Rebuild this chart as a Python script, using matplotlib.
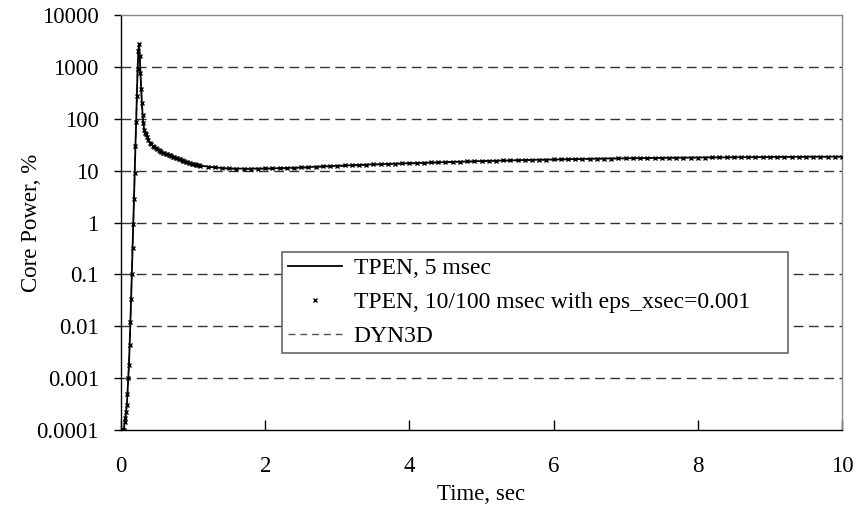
import matplotlib
matplotlib.use("Agg")
import matplotlib.pyplot as plt
from matplotlib.ticker import FixedLocator, NullLocator

plt.rcParams['font.family'] = ['Liberation Serif', 'DejaVu Serif']

# Leyenda
labels = ["TPEN, 5 msec", "TPEN, 10/100 msec with eps_xsec=0.001", "DYN3D"]

# Subida y pico (comun a las tres series)
t_rise = [0.0, 0.01, 0.02, 0.03, 0.04, 0.05, 0.06, 0.07, 0.08, 0.09, 0.10, 0.11,
          0.12, 0.13, 0.14, 0.15, 0.16, 0.17, 0.18, 0.19, 0.20, 0.21, 0.22, 0.23,
          0.24, 0.25, 0.26, 0.27, 0.28, 0.29, 0.30, 0.31, 0.32, 0.33]
p_rise = [0.0001, 0.0001, 0.0001, 0.0001, 0.0001, 0.00014, 0.00017, 0.00022,
          0.0003, 0.0005, 0.001, 0.0018, 0.0044, 0.012, 0.033, 0.1, 0.32, 0.93,
          2.85, 9.0, 30.0, 85.0, 270.0, 900.0, 2000.0, 2800.0, 1600.0, 760.0,
          370.0, 200.0, 118.0, 81.0, 62.0, 54.0]

# TPEN 5 msec (linea continua), cola
t_tpen5 = [0.34, 0.36, 0.38, 0.40, 0.45, 0.50, 0.55, 0.60, 0.70, 0.80, 0.90, 1.0,
           1.1, 1.2, 1.3, 1.5, 1.75, 2.0, 2.25, 2.5, 2.75, 3.0, 3.5, 4.0, 4.5,
           5.0, 5.5, 6.0, 6.5, 7.0, 7.5, 8.0, 8.5, 9.0, 9.5, 10.0]
p_tpen5 = [50.0, 44.0, 38.5, 34.5, 29.2, 25.8, 23.4, 21.7, 19.1, 16.8, 14.9, 13.4,
           12.4, 12.0, 11.5, 11.0, 10.9, 11.0, 11.2, 11.5, 12.0, 12.4, 13.2, 13.9,
           14.6, 15.3, 15.9, 16.4, 16.9, 17.3, 17.6, 17.9, 18.1, 18.3, 18.5, 18.6]

# TPEN 10/100 msec (marcadores), cola
t_tpen10 = [0.34, 0.36, 0.38, 0.40, 0.42, 0.44, 0.46, 0.48, 0.50, 0.52, 0.54, 0.56,
            0.58, 0.60, 0.62, 0.64, 0.66, 0.68, 0.70, 0.72, 0.74, 0.76, 0.78, 0.80,
            0.82, 0.84, 0.86, 0.88, 0.90, 0.92, 0.94, 0.96, 0.98, 1.00, 1.02, 1.04,
            1.06, 1.08, 1.10,
            1.2, 1.3, 1.4, 1.5, 1.6, 1.7, 1.8, 1.9, 2.0, 2.1, 2.2, 2.3, 2.4, 2.5,
            2.6, 2.7, 2.8, 2.9, 3.0, 3.1, 3.2, 3.3, 3.4, 3.5, 3.6, 3.7, 3.8, 3.9,
            4.0, 4.1, 4.2, 4.3, 4.4, 4.5, 4.6, 4.7, 4.8, 4.9, 5.0, 5.1, 5.2, 5.3,
            5.4, 5.5, 5.6, 5.7, 5.8, 5.9, 6.0, 6.1, 6.2, 6.3, 6.4, 6.5, 6.6, 6.7,
            6.8, 6.9, 7.0, 7.1, 7.2, 7.3, 7.4, 7.5, 7.6, 7.7, 7.8, 7.9, 8.0, 8.1,
            8.2, 8.3, 8.4, 8.5, 8.6, 8.7, 8.8, 8.9, 9.0, 9.1, 9.2, 9.3, 9.4, 9.5,
            9.6, 9.7, 9.8, 9.9, 10.0]
p_tpen10 = [50.0, 44.0, 38.5, 34.5, 32.0, 30.0, 28.4, 27.0, 25.8, 24.7, 23.8, 23.0,
            22.3, 21.7, 21.1, 20.6, 20.1, 19.6, 19.1, 18.6, 18.1, 17.6, 17.2, 16.8,
            16.4, 16.0, 15.6, 15.2, 14.9, 14.6, 14.3, 14.0, 13.7, 13.4, 13.2, 13.0,
            12.8, 12.6, 12.4,
            12.0, 11.5, 11.2, 11.0, 10.9, 10.9, 10.9, 10.9, 11.0, 11.0, 11.1, 11.2,
            11.3, 11.5, 11.7, 11.9, 12.1, 12.3, 12.4, 12.6, 12.7, 12.9, 13.0, 13.2,
            13.3, 13.5, 13.6, 13.8, 13.9, 14.1, 14.2, 14.4, 14.5, 14.6, 14.8, 14.9,
            15.0, 15.2, 15.3, 15.4, 15.6, 15.7, 15.8, 15.9, 16.0, 16.1, 16.2, 16.3,
            16.4, 16.5, 16.6, 16.7, 16.8, 16.9, 17.0, 17.0, 17.1, 17.2, 17.3, 17.3,
            17.4, 17.5, 17.5, 17.6, 17.7, 17.7, 17.8, 17.8, 17.9, 17.9, 18.0, 18.0,
            18.1, 18.1, 18.2, 18.2, 18.2, 18.3, 18.3, 18.3, 18.4, 18.4, 18.4, 18.5,
            18.5, 18.5, 18.5, 18.6, 18.6]

# DYN3D (linea discontinua), cola
t_dyn3d = [0.34, 0.36, 0.38, 0.40, 0.45, 0.50, 0.55, 0.60, 0.70, 0.80, 0.90, 1.0,
           1.1, 1.2, 1.3, 1.5, 1.75, 2.0, 2.25, 2.5, 2.75, 3.0, 3.5, 4.0, 4.5,
           5.0, 5.5, 6.0, 6.5, 7.0, 7.5, 8.0, 8.5, 9.0, 9.5, 10.0]
p_dyn3d = [50.0, 44.0, 38.5, 34.5, 29.2, 25.8, 23.4, 21.7, 19.1, 16.8, 14.9, 13.4,
           12.4, 11.9, 11.4, 10.8, 10.7, 10.8, 10.9, 11.2, 11.7, 12.1, 12.9, 13.6,
           14.3, 15.0, 15.7, 16.2, 16.7, 17.1, 17.5, 17.8, 18.0, 18.2, 18.4, 18.5]

yticks = [0.0001, 0.001, 0.01, 0.1, 1, 10, 100, 1000, 10000]
ytick_labels = ["0.0001", "0.001", "0.01", "0.1", "1", "10", "100", "1000", "10000"]
xticks = [0, 2, 4, 6, 8, 10]

fig = plt.figure(figsize=(8.57, 5.08), dpi=100)
ax = fig.add_axes([0.1412, 0.1535, 0.8413, 0.8170])

# Rejilla horizontal discontinua
for y in yticks[1:-1]:
    ax.axhline(y, color='#333333', lw=1.0, ls=(0, (7, 4)), zorder=1)

ax.plot(t_rise + t_dyn3d, p_rise + p_dyn3d, color='#555555', lw=1.0,
        ls=(0, (5, 3.5)), label=labels[2], zorder=2)
ax.plot(t_rise + t_tpen5, p_rise + p_tpen5, color='black', lw=1.3,
        label=labels[0], zorder=3)
ax.plot(t_rise + t_tpen10, p_rise + p_tpen10, ls='none', marker='x', ms=2.8,
        mew=1.0, color='black', label=labels[1], zorder=4)

ax.set_yscale('log')
ax.set_ylim(0.0001, 10000)
ax.set_xlim(0, 10)
ax.yaxis.set_major_locator(FixedLocator(yticks))
ax.yaxis.set_minor_locator(NullLocator())
ax.set_yticklabels(ytick_labels)
ax.set_xticks(xticks)
ax.set_xticklabels([str(x) for x in xticks])

ax.tick_params(axis='y', direction='out', length=5, width=1, labelsize=16.5, pad=11)
ax.tick_params(axis='x', direction='in', length=7, width=1, labelsize=16.5, pad=19)

ax.spines['left'].set_color('black')
ax.spines['bottom'].set_color('black')
ax.spines['top'].set_color('#888888')
ax.spines['right'].set_color('#888888')
for s in ax.spines.values():
    s.set_linewidth(1.0)

ax.set_xlabel("Time, sec", fontsize=16.5, labelpad=5)
ax.yaxis.set_label_coords(-0.11, 0.5)
ax.set_ylabel("Core Power, %", fontsize=16.5)

# Leyenda en el orden original
h, l = ax.get_legend_handles_labels()
orden = [1, 2, 0]
leg = ax.legend([h[i] for i in orden], [l[i] for i in orden],
                loc='lower left', bbox_to_anchor=(0.223, 0.186, 0.702, 0.241),
                mode='expand', borderaxespad=0, fontsize=17, frameon=True,
                fancybox=False, edgecolor='#666666', framealpha=1,
                handlelength=2.3, handletextpad=0.5, labelspacing=0.52,
                borderpad=0.25, markerscale=1.0)
leg.get_frame().set_linewidth(1.2)
leg.set_zorder(5)

plt.savefig("out.png", dpi=100)
